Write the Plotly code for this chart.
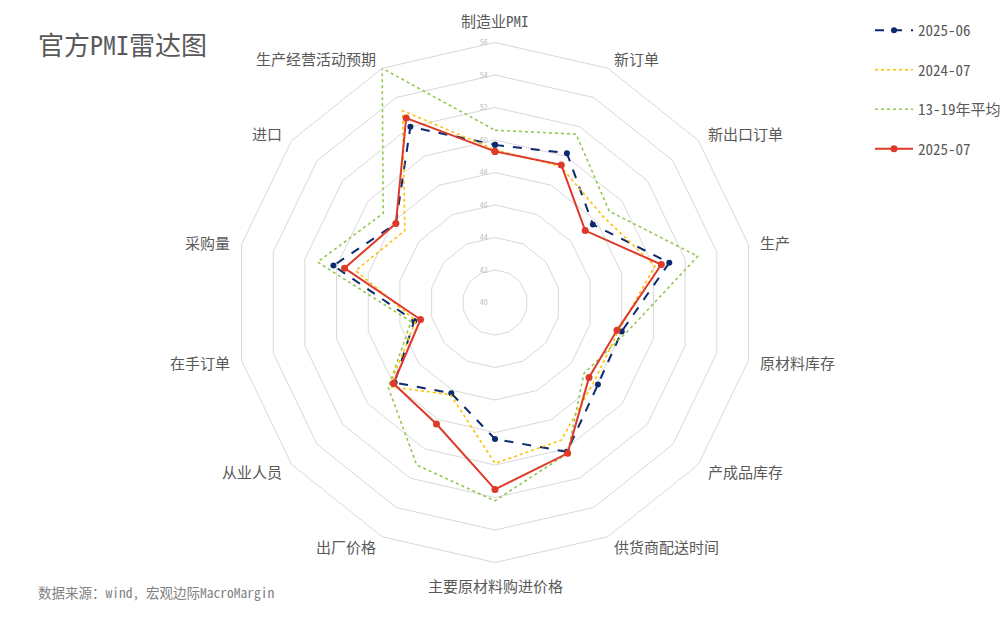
import math
import plotly.graph_objects as go

categories = ["制造业PMI", "新订单", "新出口订单", "生产", "原材料库存", "产成品库存",
              "供货商配送时间", "主要原材料购进价格", "出厂价格", "从业人员", "在手订单",
              "采购量", "进口", "生产经营活动预期"]

jun_2025 = [49.7, 50.2, 47.7, 51.0, 48.0, 48.1, 50.2, 48.4, 46.2, 47.9, 45.1, 50.2, 47.8, 52.0]
jul_2024 = [49.4, 49.3, 48.5, 50.1, 47.8, 47.8, 49.4, 49.9, 46.3, 48.3, 45.0, 48.8, 47.1, 53.1]
avg_13_19 = [50.6, 51.5, 49.0, 52.8, 48.3, 47.0, 50.3, 52.2, 51.1, 48.4, 45.3, 51.2, 48.8, 56.0]
jul_2025 = [49.3, 49.4, 47.1, 50.5, 47.7, 47.4, 50.3, 51.5, 48.3, 48.0, 44.7, 49.5, 47.8, 52.6]

radial_ticks = [40, 42, 44, 46, 48, 50, 52, 54, 56]

def closed(v):
    return list(v) + [v[0]]

theta = closed(categories)
n = len(categories)

font_cjk = "Noto Sans Mono CJK SC, Noto Sans CJK SC"

fig = go.Figure()
fig.add_trace(go.Scatterpolar(
    r=closed(jun_2025), theta=theta, name="2025-06", mode="lines+markers",
    line=dict(color="#0c2a6e", width=2, dash="dash"),
    marker=dict(size=6, color="#0c2a6e"), legendgroup="a"))
fig.add_trace(go.Scatterpolar(
    r=closed(jul_2024), theta=theta, name="2024-07", mode="lines",
    line=dict(color="#ffc000", width=1.6, dash="dot"), legendgroup="b"))
fig.add_trace(go.Scatterpolar(
    r=closed(avg_13_19), theta=theta, name="13-19年平均", mode="lines",
    line=dict(color="#92c850", width=1.6, dash="dot"), legendgroup="c"))
fig.add_trace(go.Scatterpolar(
    r=closed(jul_2025), theta=theta, name="2025-07", mode="lines+markers",
    line=dict(color="#dd3a2a", width=2),
    marker=dict(size=7, color="#dd3a2a"), legendgroup="d"))

W, H = 1008, 618
OFF = 8  # page body margin offset
cx, cy, R = 495 - OFF, 302.5 - OFF, 260
GAP = 11

# category labels placed just outside the outer ring (Excel-style anchoring)
label_anns = []
for k, name in enumerate(categories):
    a = k * 360 / n
    dx, dy = math.sin(math.radians(a)), -math.cos(math.radians(a))
    px = cx + (R + GAP) * dx
    py = cy + (R + GAP) * dy
    if abs(dx) < 1e-6:
        xa, ya = "center", ("bottom" if dy < 0 else "top")
    else:
        xa, ya = ("left" if dx > 0 else "right"), "middle"
    label_anns.append(dict(text=name, x=px / W, y=1 - py / H, xref="paper", yref="paper",
                           showarrow=False, xanchor=xa, yanchor=ya, borderpad=0,
                           font=dict(size=15, color="#595959", family=font_cjk)))

fig.update_layout(
    width=W, height=H,
    margin=dict(l=0, r=0, t=0, b=0),
    paper_bgcolor="white", plot_bgcolor="white",
    font=dict(family=font_cjk, color="#595959"),
    polar=dict(
        domain=dict(x=[(cx - R) / W, (cx + R) / W], y=[(H - cy - R) / H, (H - cy + R) / H]),
        bgcolor="white",
        gridshape="linear",
        radialaxis=dict(
            range=[40, 56], tickvals=radial_ticks, angle=90, tickangle=90,
            showline=False, ticks="outside", ticklen=4, tickcolor="rgba(0,0,0,0)",
            gridcolor="#d9d9d9", gridwidth=1,
            tickfont=dict(size=8, color="#bfbfbf"), side="counterclockwise"),
        angularaxis=dict(
            rotation=90, direction="clockwise", showgrid=False,
            showline=True, linecolor="#d9d9d9", linewidth=1,
            ticks="", showticklabels=False),
    ),
    legend=dict(x=862 / W, y=1 - 6 / H, xanchor="left", yanchor="top",
                font=dict(size=15, color="#595959", family=font_cjk),
                itemwidth=38, tracegroupgap=17, bgcolor="rgba(0,0,0,0)"),
    annotations=[
        dict(text="官方PMI雷达图", x=28 / W, y=1 - 36 / H, xref="paper", yref="paper",
             showarrow=False, xanchor="left", yanchor="middle",
             font=dict(size=26, color="#595959", family=font_cjk)),
        dict(text="数据来源：wind, 宏观边际MacroMargin", x=28 / W, y=1 - 584 / H,
             xref="paper", yref="paper", showarrow=False, xanchor="left", yanchor="middle",
             font=dict(size=13.5, color="#7f7f7f", family=font_cjk)),
    ] + label_anns,
)

fig.write_html("out.html")
